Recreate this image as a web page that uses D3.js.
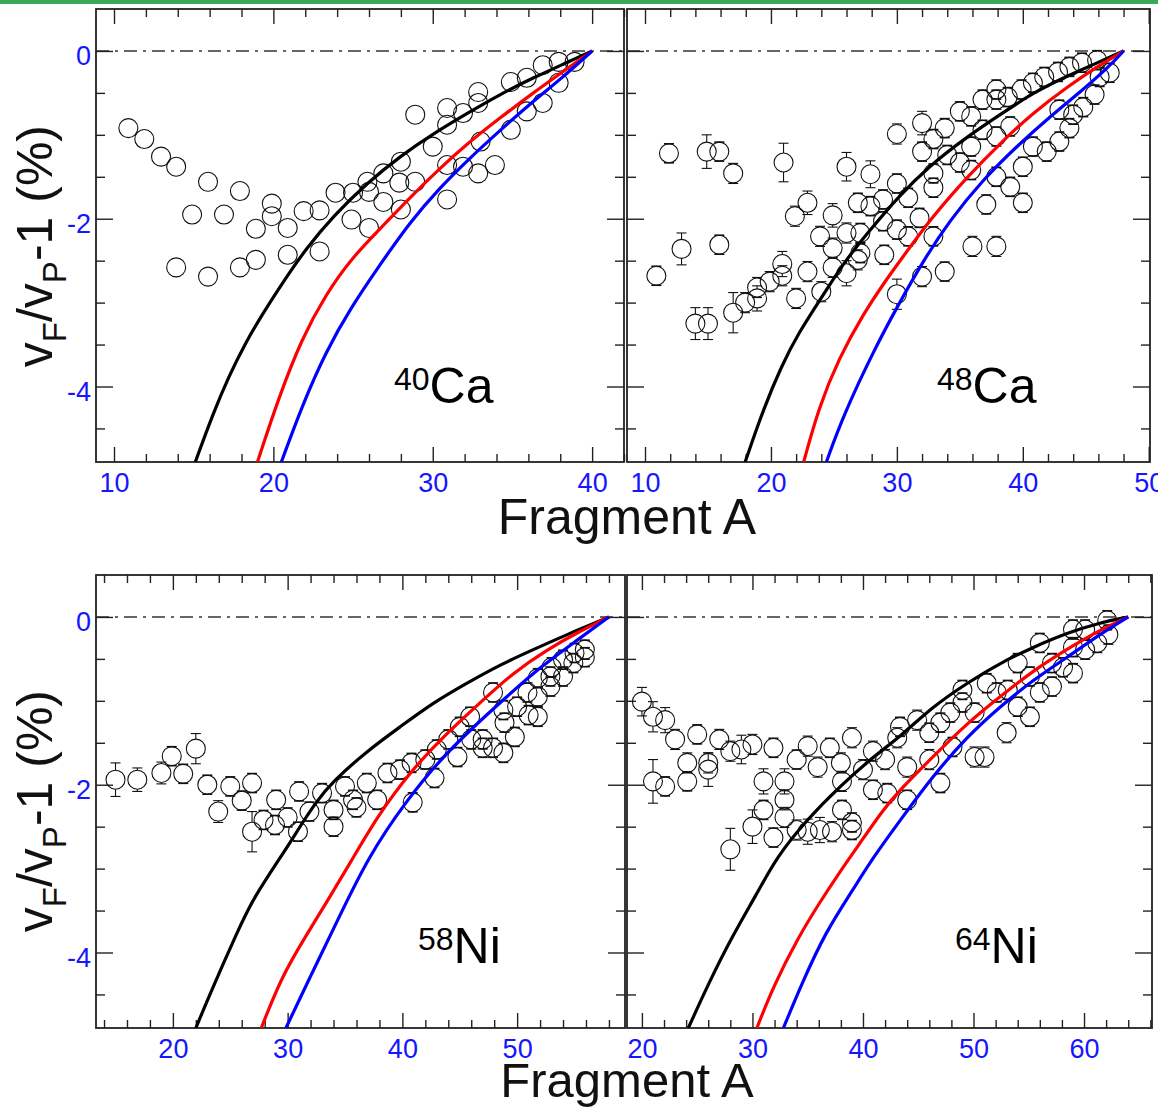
<!DOCTYPE html>
<html><head><meta charset="utf-8">
<script src="https://cdn.jsdelivr.net/npm/d3@7"></script>
<style>body{margin:0;background:#fff}svg{display:block}</style>
</head><body><svg id="c" width="1158" height="1108"></svg>
<script>
// ---------------- data ----------------
const yTickLabels = [0, -2, -4];
const xTicks40Ca = [10, 20, 30, 40];
const xTicks48Ca = [10, 20, 30, 40, 50];
const xTicks58Ni = [20, 30, 40, 50];
const xTicks64Ni = [20, 30, 40, 50, 60];

// measured points: [A, vF/vP-1 (%), error]
const ca40Pts = [[10.9,-0.92,0],[11.9,-1.05,0],[12.95,-1.26,0],[13.9,-1.38,0],[15.9,-1.56,0],[17.9,-1.67,0],[14.9,-1.95,0],[16.9,-1.95,0],[19.9,-1.82,0],[19.9,-1.97,0],[18.9,-2.12,0],[20.9,-2.11,0],[21.9,-1.91,0],[22.9,-1.9,0],
[13.9,-2.58,0],[15.9,-2.69,0],[17.9,-2.58,0],[18.9,-2.49,0],[20.9,-2.43,0],[22.9,-2.39,0],
[23.9,-1.69,0],[25,-1.69,0],[25.9,-1.56,0],[26,-1.68,0],[26.9,-1.46,0],[26.9,-1.8,0],[28,-1.32,0],[27.9,-1.57,0],[28,-1.89,0],[24.9,-2.01,0],[26,-2.11,0],[28.9,-0.76,0],[28.9,-1.56,0],[30,-1.14,0],[30.9,-0.68,0],[30.9,-0.88,0],[30.9,-1.36,0],[30.9,-1.77,0],[31.9,-0.74,0],[31.9,-1.38,0],[32.85,-0.49,0],[32.85,-0.62,0],[33,-1.08,0],[32.85,-1.46,0],[33.9,-1.36,0],[34.9,-0.37,0],[34.9,-0.94,0],[35.9,-0.32,0],[35.9,-0.72,0],[36.9,-0.17,0],[36.9,-0.62,0],[37.9,-0.13,0],[37.9,-0.38,0],[38.9,-0.13,0]];

const ca48Pts = [[10.9,-2.68,0.1],[11.9,-1.22,0.1],[12.9,-2.36,0.19],[14.9,-1.2,0.2],[15.9,-1.2,0.1],[15.9,-2.31,0.1],[17,-1.46,0.12],[14,-3.25,0.19],[15,-3.25,0.19],[17,-3.12,0.24],[17.95,-3.0,0.12],[18.9,-2.82,0.12],[18.9,-2.95,0.15],[19.9,-2.75,0.12],[20.9,-2.54,0.15],[20.9,-2.68,0.12],[21,-1.33,0.23],[22,-2.95,0.12],[21.9,-1.97,0.12],[22.9,-1.81,0.14],[22.9,-2.63,0.12],[23.9,-2.21,0.12],[24,-2.87,0.12],[24.9,-1.96,0.14],[24.9,-2.35,0.12],[24.9,-2.58,0.12],[26,-1.38,0.17],[26,-2.17,0.12],[26,-2.65,0.15],[26.9,-1.81,0.1],[26.9,-2.49,0.12],[27.1,-2.17,0.1],[27.1,-2.41,0.1],[27.9,-1.47,0.16],[27.9,-1.85,0.1],[28.9,-1.77,0.1],[28.9,-2.03,0.1],[29,-2.43,0.1],
[30,-0.99,0.12],[30,-1.58,0.1],[30,-2.13,0.1],[30,-2.9,0.18],[30.9,-1.75,0.1],[30.9,-2.21,0.1],[31.8,-1.99,0.1],[32,-0.86,0.14],[32,-1.2,0.1],[32,-2.69,0.12],[32.9,-1.05,0.1],[32.9,-1.46,0.1],[32.9,-1.63,0.1],[32.9,-2.21,0.1],[33.8,-0.92,0.1],[33.8,-2.63,0.1],[34,-1.24,0.1],[35,-0.72,0.1],[35,-1.33,0.1],[35.9,-0.78,0.1],[35.9,-1.14,0.1],[35.9,-1.42,0.1],[36,-2.33,0.12],[36.8,-0.58,0.1],[36.8,-0.94,0.1],[37.1,-1.83,0.1],[37.9,-0.46,0.1],[37.9,-0.58,0.1],[37.9,-1.02,0.1],[37.9,-1.5,0.1],[37.9,-2.33,0.12],[38.8,-0.55,0.1],[39,-0.9,0.1],[39,-1.62,0.1],[39.9,-0.46,0.1],[40,-1.38,0.1],[40,-1.81,0.1],[40.8,-0.38,0.1],[40.8,-1.14,0.1],[41.7,-0.31,0.1],[41.9,-1.2,0.1],[42.8,-0.25,0.1],[42.9,-0.7,0.1],[42.9,-1.08,0.1],[43.7,-0.19,0.1],[43.7,-0.92,0.1],[44,-0.76,0.1],[44.7,-0.14,0.1],[44.8,-0.67,0.1],[45.7,-0.52,0.1],[45.9,-0.11,0.1],[46.1,-0.31,0.1],[46.9,-0.26,0.1]];

const ni58Pts = [[15.0,-1.94,0.2],[16.9,-1.94,0.14],[19.0,-1.86,0.13],[19.9,-1.66,0.1],[20.9,-1.87,0.1],[22,-1.57,0.18],[23,-2.0,0.1],[23.95,-2.32,0.13],[25,-2.02,0.1],[26,-2.19,0.1],[26.9,-1.98,0.1],[26.9,-2.56,0.24],[27.9,-2.42,0.1],[29,-2.18,0.1],[28.9,-2.48,0.1],[30,-2.39,0.1],[30.9,-2.56,0.1],[31,-2.08,0.1],[31.9,-2.32,0.1],[33,-2.1,0.1],
[34,-2.3,0.1],[34,-2.5,0.1],[35,-2.02,0.1],[35.7,-2.18,0.1],[36,-2.27,0.1],[36.9,-1.98,0.1],[37.8,-2.18,0.1],[38.7,-1.86,0.1],[39.8,-1.82,0.1],[40.8,-1.74,0.1],[40.9,-2.21,0.1],[42,-1.7,0.1],[42.8,-1.92,0.1],[43,-1.58,0.1],[44,-1.46,0.1],[44.8,-1.67,0.1],[45,-1.31,0.1],[45.9,-1.19,0.1],[46,-1.46,0.1],[47,-1.46,0.1],[47,-1.56,0.1],[47.9,-0.9,0.1],[47.9,-1.56,0.1],[48.8,-1.62,0.1],[48.8,-1.11,0.1],[48.9,-1.26,0.1],[49.8,-1.43,0.1],[50,-1.07,0.1],[50.9,-0.9,0.1],[51,-1.17,0.1],[51.8,-1.19,0.1],[51.8,-0.73,0.1],[51.8,-0.95,0.1],[52.9,-0.71,0.1],[52.9,-0.83,0.1],[53,-0.6,0.1],[54,-0.71,0.1],[54,-0.51,0.1],[54.9,-0.55,0.1],[55,-0.43,0.1],[55.9,-0.48,0.1],[55.9,-0.39,0.1]];

const ni64Pts = [[20,-1.01,0.17],[21,-1.19,0.18],[22.1,-1.23,0.15],[23,-1.46,0.12],[25,-1.4,0.1],[27,-1.46,0.12],[28,-1.6,0.12],[29,-1.58,0.17],[30,-1.52,0.12],[31.9,-1.56,0.1],[34,-1.7,0.1],[35,-1.54,0.12],[35.9,-1.79,0.12],[37,-1.56,0.1],[38,-1.74,0.12],[39,-1.44,0.12],
[21,-1.96,0.26],[22.1,-2.02,0.1],[24.1,-1.96,0.1],[24.1,-1.74,0.12],[26,-1.74,0.12],[26,-1.82,0.2],[31,-1.96,0.15],[32.9,-1.96,0.15],[32.9,-2.18,0.12],[31,-2.3,0.1],[30,-2.5,0.2],[31.9,-2.63,0.1],[32.9,-2.39,0.12],[34,-2.54,0.12],[35,-2.56,0.15],[36.1,-2.54,0.15],[37.2,-2.56,0.12],[38.1,-2.3,0.1],[39,-2.45,0.1],[39,-2.54,0.1],[28,-2.77,0.25],[38.1,-1.96,0.12],[40,-1.82,0.12],[40.9,-1.6,0.12],[42,-1.7,0.12],[43.1,-1.44,0.12],[44,-1.79,0.12],[44.9,-1.23,0.12],[40.9,-2.06,0.1],[42.2,-2.1,0.1],[44,-2.18,0.1],
[43.35,-1.31,0.1],[46,-1.38,0.1],[46,-1.7,0.12],[47,-1.26,0.1],[47.9,-1.14,0.1],[47,-1.98,0.1],[48.1,-1.55,0.1],[49,-0.87,0.1],[49,-1.02,0.1],[50.1,-1.14,0.1],[50.1,-1.67,0.12],[51,-1.67,0.12],[51.2,-0.79,0.1],[52.1,-0.9,0.1],[53,-1.38,0.12],[53.1,-0.87,0.1],[54,-0.55,0.1],[54,-1.07,0.1],[55.1,-0.71,0.1],[55.1,-1.19,0.1],[56,-0.31,0.1],[56,-0.9,0.1],[57.1,-0.55,0.1],[57.1,-0.83,0.1],[58.1,-0.6,0.1],[59,-0.67,0.1],[59,-0.36,0.1],[59,-0.15,0.1],[60.1,-0.15,0.1],[60.1,-0.39,0.1],[61.2,-0.31,0.1],[62.1,-0.04,0.1],[62.2,-0.21,0.1]];

// model curves: [A, value]
const ca40Black = [[15.1,-4.9],[16.2,-4.33],[17.2,-3.88],[18.2,-3.5],[19.2,-3.17],[20.8,-2.7],[22,-2.37],[23.75,-1.97],[25.9,-1.57],[28,-1.25],[30,-0.99],[32.2,-0.74],[34.2,-0.52],[36.3,-0.32],[38.4,-0.14],[40,0]];
const ca40Red = [[19,-4.9],[20.3,-4.15],[21.8,-3.42],[23.3,-2.9],[24.9,-2.47],[26.9,-2.08],[28.6,-1.74],[30.5,-1.39],[32.2,-1.1],[34.2,-0.8],[36.3,-0.5],[38,-0.27],[40,0]];
const ca40Blue = [[20.5,-4.9],[21.8,-4.23],[23.3,-3.58],[24.9,-3.05],[26.5,-2.6],[28.6,-2.03],[30.5,-1.62],[32.2,-1.3],[34.2,-0.95],[36.3,-0.6],[38,-0.34],[40,0]];
const ca48Black = [[17.95,-4.9],[19.45,-4.25],[20.8,-3.77],[22.1,-3.38],[24.4,-2.85],[25.9,-2.5],[27.9,-2.13],[30.1,-1.74],[32.5,-1.38],[35.6,-1.02],[38.2,-0.76],[40.8,-0.5],[43.5,-0.3],[46.1,-0.13],[48,0]];
const ca48Red = [[22.6,-4.9],[23.8,-4.25],[25.4,-3.66],[27.4,-3.12],[29,-2.76],[30.3,-2.49],[32.9,-1.96],[35.6,-1.5],[38.2,-1.1],[40.8,-0.74],[43.5,-0.43],[46.1,-0.17],[48,0]];
const ca48Blue = [[24.4,-4.9],[25.7,-4.36],[28.2,-3.56],[30.1,-3.03],[32.1,-2.5],[34.2,-2.02],[36.8,-1.54],[39.5,-1.14],[42.1,-0.79],[44.8,-0.46],[46.9,-0.18],[48,0]];
const ni58Black = [[22,-4.9],[23.4,-4.44],[25.6,-3.76],[27,-3.35],[29.85,-2.77],[31.07,-2.5],[32.5,-2.2],[33.95,-1.96],[36.9,-1.6],[39.8,-1.31],[42.7,-1.02],[45.6,-0.79],[48.5,-0.57],[51.4,-0.39],[54.35,-0.21],[58,0]];
const ni58Red = [[27.7,-4.9],[29.5,-4.28],[31.6,-3.8],[33.4,-3.4],[35.5,-2.92],[37.8,-2.38],[40.7,-1.84],[43.9,-1.38],[46.8,-1.02],[49.6,-0.67],[52.6,-0.39],[55.2,-0.19],[58,0]];
const ni58Blue = [[29.85,-4.9],[32,-4.28],[34.1,-3.69],[37,-2.86],[40.4,-2.18],[43.3,-1.7],[46.2,-1.31],[49.1,-0.95],[52,-0.6],[54.9,-0.31],[58,0]];
const ni64Black = [[24.2,-4.9],[26.06,-4.36],[28.2,-3.8],[30.4,-3.3],[32.2,-2.86],[34.9,-2.42],[37.9,-2.02],[40.9,-1.67],[43.35,-1.43],[46.3,-1.07],[49.4,-0.79],[52.4,-0.55],[55.4,-0.36],[58.5,-0.19],[61.4,-0.07],[64,0]];
const ni64Red = [[30.4,-4.9],[31.9,-4.4],[34.1,-3.83],[36,-3.42],[37.9,-3.04],[39.5,-2.74],[41.8,-2.3],[43.35,-2.06],[46.3,-1.67],[49.4,-1.27],[52.4,-0.95],[55.4,-0.64],[58.5,-0.38],[61.4,-0.16],[64,0]];
const ni64Blue = [[32.8,-4.9],[34.5,-4.36],[36.6,-3.76],[39.1,-3.25],[40.9,-2.87],[43.5,-2.4],[46.3,-1.9],[49.4,-1.43],[52.4,-1.07],[55.4,-0.75],[58.5,-0.48],[61.4,-0.21],[64,0]];

// ---------------- layout ----------------
const panels = [
  {id:'p1', x0:96,  x1:624,  y0:9,   y1:462,  dom:[8.87,42.0],  ticks:xTicks40Ca, yLab:true,  pts:ca40Pts, curves:[ca40Black,ca40Red,ca40Blue], mass:'40', el:'Ca', lx:394, ly:403},
  {id:'p2', x0:627, x1:1150, y0:9,   y1:462,  dom:[8.57,50.1],  ticks:xTicks48Ca, yLab:false, pts:ca48Pts, curves:[ca48Black,ca48Red,ca48Blue], mass:'48', el:'Ca', lx:937, ly:403},
  {id:'p3', x0:96,  x1:625,  y0:575, y1:1028, dom:[13.3,59.4],  ticks:xTicks58Ni, yLab:true,  pts:ni58Pts, curves:[ni58Black,ni58Red,ni58Blue], mass:'58', el:'Ni', lx:418, ly:963},
  {id:'p4', x0:627, x1:1152, y0:575, y1:1028, dom:[18.65,66.15],ticks:xTicks64Ni, yLab:false, pts:ni64Pts, curves:[ni64Black,ni64Red,ni64Blue], mass:'64', el:'Ni', lx:955, ly:963}
];
const curveColors = ['#000000', '#ff0000', '#0000ff'];
const yDom = [-4.9, 0.5];
const FONT = "'Liberation Sans', Arial, Helvetica, sans-serif";
const axisCol = '#222';

const svg = d3.select('#c');
svg.append('rect').attr('width',1158).attr('height',1108).attr('fill','#fff');
svg.append('rect').attr('x',0).attr('y',0).attr('width',1158).attr('height',4).attr('fill','#3aaa5a');

panels.forEach(p => {
  const x = d3.scaleLinear().domain(p.dom).range([p.x0, p.x1]);
  const y = d3.scaleLinear().domain(yDom).range([p.y1, p.y0]);
  const g = svg.append('g');
  const clip = 'clip-' + p.id;
  svg.append('defs').append('clipPath').attr('id', clip)
    .append('rect').attr('x', p.x0).attr('y', p.y0).attr('width', p.x1 - p.x0).attr('height', p.y1 - p.y0);

  g.append('line').attr('x1', p.x0).attr('x2', p.x1).attr('y1', y(0)).attr('y2', y(0))
    .attr('stroke', '#333').attr('stroke-width', 1.4).attr('stroke-dasharray', '13,6,3,6');

  const lo = Math.ceil(p.dom[0] / 2) * 2, hi = Math.floor(p.dom[1] / 2) * 2;
  const xMinor = d3.range(lo, hi + 0.01, 2).filter(v => v % 10 !== 0);
  const xMajor = d3.range(Math.ceil(p.dom[0] / 10) * 10, p.dom[1] + 0.01, 10);
  const yMinor = d3.range(-4.5, 0.01, 0.5).filter(v => Math.abs(v % 2) > 1e-9);
  const yMajor = [0, -2, -4];

  const styleAxis = sel => {
    sel.select('.domain').remove();
    sel.selectAll('line').attr('stroke', axisCol).attr('stroke-width', 1.4);
  };
  const addAxis = (axisFn, scale, vals, size, tx, ty) => {
    g.append('g').attr('transform', `translate(${tx},${ty})`)
      .call(axisFn(scale).tickValues(vals).tickSize(-size).tickFormat(''))
      .call(styleAxis);
  };
  addAxis(d3.axisBottom, x, xMinor, 8, 0, p.y1);
  addAxis(d3.axisTop, x, xMinor, 8, 0, p.y0);
  addAxis(d3.axisTop, x, xMajor, 15, 0, p.y0);
  addAxis(d3.axisLeft, y, yMinor, 9, p.x0, 0);
  addAxis(d3.axisRight, y, yMinor, 9, p.x1, 0);
  addAxis(d3.axisLeft, y, yMajor, 17, p.x0, 0);
  addAxis(d3.axisRight, y, yMajor, 17, p.x1, 0);
  const bx = g.append('g').attr('transform', `translate(0,${p.y1})`)
    .call(d3.axisBottom(x).tickValues(p.ticks).tickSize(-15).tickPadding(11).tickFormat(d3.format('d')))
    .call(styleAxis);
  bx.selectAll('text').attr('fill', '#1515ff').style('font-family', FONT).style('font-size', '27px');

  if (p.yLab) {
    const ly = g.append('g').attr('transform', `translate(${p.x0},0)`)
      .call(d3.axisLeft(y).tickValues(yTickLabels).tickSize(0).tickPadding(5).tickFormat(d3.format('d')))
      .call(styleAxis);
    ly.selectAll('text').attr('fill', '#1515ff').attr('dy', '0.5em')
      .style('font-family', FONT).style('font-size', '27px')
      .text(d => d < 0 ? '-' + Math.abs(d) : d);
  }

  g.append('rect').attr('x', p.x0).attr('y', p.y0).attr('width', p.x1 - p.x0).attr('height', p.y1 - p.y0)
    .attr('fill', 'none').attr('stroke', axisCol).attr('stroke-width', 1.8);

  const r = 9.5;
  const pg = g.append('g').attr('clip-path', `url(#${clip})`);
  const seg = (x1, y1, x2, y2, w) => pg.append('line').attr('x1', x1).attr('x2', x2).attr('y1', y1).attr('y2', y2)
    .attr('stroke', '#111').attr('stroke-width', w);
  p.pts.forEach(d => {
    const cx = x(d[0]), cy = y(d[1]);
    const eTop = y(d[1] + d[2]), eBot = y(d[1] - d[2]);
    if (cy - eTop > r) {
      seg(cx, eTop, cx, cy - r, 1.1); seg(cx - 5, eTop, cx + 5, eTop, 1.1);
      seg(cx, cy + r, cx, eBot, 1.1); seg(cx - 5, eBot, cx + 5, eBot, 1.1);
    } else if (d[2] > 0) {
      seg(cx - 5, cy - r, cx + 5, cy - r, 1.6); seg(cx - 5, cy + r, cx + 5, cy + r, 1.6);
    }
    pg.append('circle').attr('cx', cx).attr('cy', cy).attr('r', r)
      .attr('fill', 'none').attr('stroke', '#111').attr('stroke-width', 1.1);
  });

  const line = d3.line().x(d => x(d[0])).y(d => y(d[1])).curve(d3.curveBasis);
  const cg = g.append('g').attr('clip-path', `url(#${clip})`);
  p.curves.forEach((c, i) => {
    cg.append('path').attr('d', line(c)).attr('fill', 'none')
      .attr('stroke', curveColors[i]).attr('stroke-width', 3.2).attr('stroke-linejoin', 'round');
  });

  const t = g.append('text').attr('x', p.lx).attr('y', p.ly).style('font-family', FONT).attr('fill', '#000');
  t.append('tspan').attr('font-size', 32).attr('dy', -13).text(p.mass);
  t.append('tspan').attr('font-size', 50).attr('dy', 13).text(p.el);
});

[[534, 50], [1097, 49]].forEach(([by, fs]) => {
  svg.append('text').attr('x', 627).attr('y', by).attr('text-anchor', 'middle')
    .style('font-family', FONT).style('font-size', fs + 'px').attr('fill', '#111').text('Fragment A');
});
[125, 690].forEach(ty => {
  const t = svg.append('text').attr('transform', `translate(52,${ty}) rotate(-90)`)
    .attr('text-anchor', 'end').style('font-family', FONT).style('font-size', '50px').attr('fill', '#111');
  t.append('tspan').text('v');
  t.append('tspan').attr('font-size', 33).attr('dy', 14).text('F');
  t.append('tspan').attr('dy', -14).text('/v');
  t.append('tspan').attr('font-size', 33).attr('dy', 14).text('P');
  t.append('tspan').attr('dy', -14).text('-1 (%)');
});
</script>
</body></html>
